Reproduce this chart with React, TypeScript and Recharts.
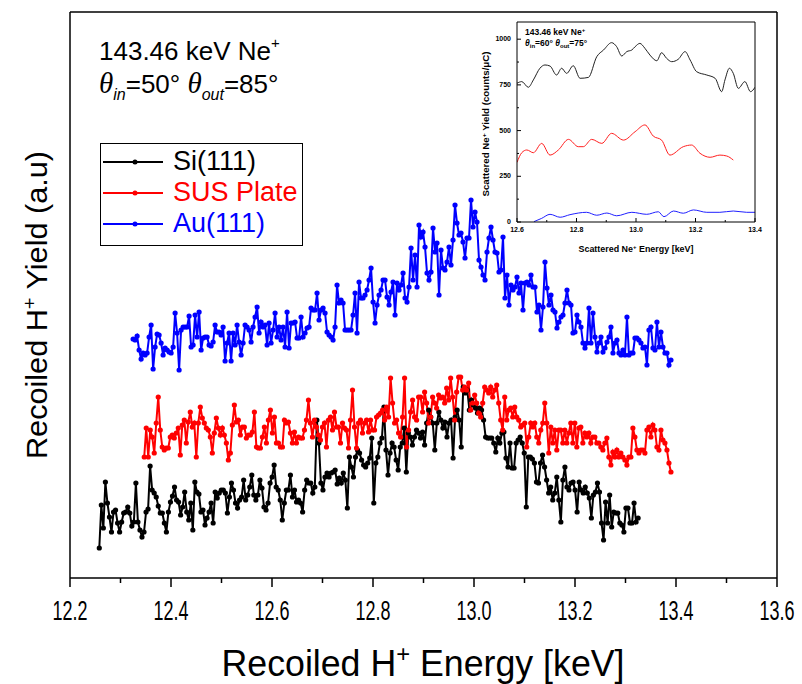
import React from 'react';
import { LineChart, Line, XAxis, YAxis, Legend } from 'recharts';

document.body.style.margin = '0';

// main plot: recoiled H+ yield (a.u.)
const energyTicks = [12.2, 12.3, 12.4, 12.5, 12.6, 12.7, 12.8, 12.9, 13.0, 13.1, 13.2, 13.3, 13.4, 13.5, 13.6];
const seriesNames = ['Si(111)', 'SUS Plate', 'Au(111)'];

const siRange = [12.258, 13.325];
const siYield = [
  30, 73, 50, 96, 75, 61, 46, 66, 68, 55, 46, 56, 65, 66, 71, 65, 52, 56, 95, 56,
  48, 41, 46, 66, 69, 112, 88, 85, 81, 72, 65, 65, 55, 46, 66, 76, 82, 91, 78, 76,
  63, 71, 86, 66, 58, 75, 48, 96, 86, 84, 66, 68, 53, 60, 66, 75, 55, 86, 80, 85,
  88, 88, 85, 65, 81, 95, 88, 75, 70, 78, 81, 98, 78, 83, 91, 103, 83, 78, 83, 98,
  90, 71, 68, 75, 95, 101, 113, 91, 88, 78, 58, 75, 88, 88, 103, 81, 88, 76, 78, 75,
  66, 88, 98, 95, 95, 85, 91, 158, 135, 95, 88, 101, 105, 101, 105, 106, 108, 94, 100, 95,
  105, 98, 70, 121, 111, 101, 121, 128, 125, 118, 113, 111, 115, 120, 140, 75, 115, 121, 135, 140,
  171, 128, 103, 125, 135,
  131, 118, 108, 131, 135, 150, 106, 145, 141, 133, 141, 148, 145, 140, 146, 133, 155, 168, 161, 155,
  128, 155, 166, 158, 150, 156, 141, 155, 158, 120, 161, 168, 158, 131, 191, 185, 188, 168, 178, 173,
  170, 165, 170, 168, 158, 141, 140, 140, 140, 135, 126, 140, 135, 145, 146, 120, 111, 135, 110, 110,
  135, 138, 141, 135, 125, 71, 121, 121, 119, 115, 96, 95, 115, 123, 111, 98, 85, 91, 78, 85,
  101, 78, 56, 98, 111, 91, 88, 95, 96, 88, 66, 96, 88, 85, 91, 85, 80, 60, 83, 86,
  95, 86, 55, 38, 76, 55, 83, 51, 66, 65, 65, 55, 53, 46, 70, 70, 55, 55, 75, 56, 60,
];

const susRange = [12.347, 13.39];
const susYield = [
  121, 150, 121, 148, 141, 125, 155, 181, 148, 131, 128, 130, 130, 141, 143, 140, 145, 150, 123, 153,
  158, 135, 156, 166, 151, 155, 121, 155, 171, 160, 155, 150, 148, 141, 125, 145, 160, 150, 143, 150,
  143, 135, 118, 125, 153, 173, 156, 158, 143, 151, 151, 140, 143, 143, 146, 166, 131, 130, 130, 141,
  151, 135, 158, 168, 145, 161, 135, 135, 131, 131, 158, 155, 156, 145, 135, 146, 135, 141, 140, 140,
  148, 158, 178, 155, 141, 158, 151, 143, 138, 151, 155, 131, 158, 161, 148, 166, 151, 151, 135, 155,
  150, 148, 130, 158, 188, 151, 130, 155, 158, 145, 155, 158, 146, 158, 148, 148, 161, 163, 165, 168,
  158, 171, 161, 200, 175, 155, 158, 145,
  141, 161, 200, 131, 148, 166, 178, 161, 158, 181, 181, 166, 186, 175, 155, 161, 181, 175, 170, 183,
  180, 181, 175, 190, 178, 200, 181, 158, 186, 201, 201, 188, 191, 188, 195, 168, 175, 183, 175, 165,
  161, 175, 191, 188, 185, 191, 181, 188, 193, 175, 158, 148, 181, 158, 168, 170, 161, 171, 161, 158,
  151, 153, 155, 131, 141, 155, 151, 155, 141, 135, 148, 155, 175, 155, 125, 151, 135, 148, 128, 148,
  148, 135, 148, 135, 145, 155, 135, 155, 131, 150, 151, 135, 145, 141, 145, 135, 141, 141, 135, 135,
  131, 128, 135, 140, 121, 113, 126, 121, 128, 121, 125, 121, 118, 113, 121, 121, 150, 141, 128, 125,
  128, 128, 125, 148, 151, 141, 153, 148, 131, 128, 148, 138, 135, 128, 115, 106,
];

const auRange = [12.325, 13.39];
const auYield = [
  239, 238, 242, 228, 219, 225, 223, 225, 241, 253, 209, 231, 244, 243, 235, 223, 230, 228, 226, 225,
  231, 265, 245, 208, 248, 251, 251, 251, 262, 231, 233, 263, 241, 266, 228, 240, 241, 241, 233, 232,
  236, 253, 246, 246, 243, 251, 217, 235, 245, 217, 245, 233, 253, 236, 223, 235, 253, 251, 248, 236,
  251, 261, 271, 245, 256, 251, 253, 233, 255, 235, 248, 265, 241, 251, 238, 251, 231, 266, 230, 255,
  255, 256, 240, 240, 261, 241, 245, 250, 251, 270, 268, 268, 285, 258, 268, 270, 265, 246, 243, 241,
  238, 251, 293, 275, 278, 275, 248, 248, 248, 248, 263, 285, 245, 296, 280, 280, 283, 288, 298, 310,
  276, 255, 273, 283, 288, 298, 298, 281, 273, 286, 296, 263, 295,
  288, 293, 305, 280, 276, 291, 330, 298, 323, 291, 353, 341, 346, 331, 305, 298, 306, 350, 326, 335,
  283, 328, 310, 308, 316, 331, 313, 338, 373, 355, 343, 345, 336, 320, 340, 340, 378, 351, 366, 356,
  318, 311, 303, 298, 326, 340, 351, 338, 326, 325, 306, 308, 341, 280, 303, 273, 293, 288, 291, 301,
  285, 295, 268, 295, 296, 293, 303, 291, 291, 266, 273, 248, 271, 316, 290, 273, 283, 268, 266, 250,
  256, 261, 263, 275, 288, 275, 273, 245, 246, 263, 256, 251, 235, 230, 235, 270, 235, 265, 241, 226,
  235, 241, 226, 230, 236, 241, 251, 225, 235, 238, 225, 223, 228, 223, 261, 223, 225, 225, 240, 240,
  238, 235, 230, 231, 213, 248, 251, 230, 228, 256, 231, 246, 231, 225, 225, 213, 218,
];

// inset: scattered Ne+ yield (counts/uC)
const insetTicksX = [12.6, 12.7, 12.8, 12.9, 13.0, 13.1, 13.2, 13.3, 13.4];
const insetTicksY = [0, 125, 250, 375, 500, 625, 750, 875, 1000];

const insetSiE = [12.6, 12.616, 12.638, 12.655, 12.677, 12.694, 12.711, 12.733, 12.75, 12.767, 12.789, 12.812, 12.84, 12.868, 12.891, 12.918, 12.935, 12.952, 12.969, 12.986, 12.997, 13.013, 13.03, 13.047, 13.07, 13.086, 13.103, 13.12, 13.142, 13.165, 13.182, 13.204, 13.238, 13.266, 13.288, 13.299, 13.314, 13.327, 13.344, 13.366, 13.385, 13.4];
const insetSiY = [759, 768, 737, 777, 841, 859, 853, 804, 841, 813, 855, 786, 791, 904, 941, 981, 959, 908, 932, 941, 959, 977, 950, 913, 882, 926, 895, 877, 890, 932, 886, 822, 804, 786, 713, 777, 841, 813, 731, 768, 713, 737];

const insetSusE = [12.6, 12.616, 12.633, 12.655, 12.683, 12.711, 12.739, 12.773, 12.806, 12.823, 12.851, 12.885, 12.918, 12.958, 12.997, 13.03, 13.058, 13.086, 13.114, 13.159, 13.187, 13.215, 13.249, 13.282, 13.305, 13.327];
const insetSusY = [326, 379, 394, 379, 430, 366, 394, 452, 412, 412, 452, 430, 485, 448, 494, 531, 470, 448, 366, 412, 421, 376, 354, 366, 361, 339];

const insetAuE = [12.657, 12.683, 12.711, 12.745, 12.778, 12.834, 12.868, 12.902, 12.935, 12.986, 13.036, 13.075, 13.094, 13.126, 13.159, 13.193, 13.238, 13.282, 13.327, 13.372, 13.4];
const insetAuY = [2, 20, 42, 26, 40, 53, 37, 49, 34, 53, 42, 56, 29, 60, 48, 66, 53, 53, 60, 53, 53];

const spread = (range: number[], ys: number[]) =>
  ys.map((y, i) => ({ e: range[0] + ((range[1] - range[0]) * i) / (ys.length - 1), y }));
const pair = (es: number[], ys: number[]) => es.map((e, i) => ({ e, y: ys[i] }));

const siData = spread(siRange, siYield);
const susData = spread(susRange, susYield);
const auData = spread(auRange, auYield);

const SANS = "'Liberation Sans', Arial, sans-serif";
const frame = { stroke: '#000', strokeWidth: 1.5 };

const MainTick = (props: any) => {
  const { x, y, payload, index } = props;
  const major = index % 2 === 0;
  return (
    <g>
      <line x1={x} y1={y} x2={x} y2={y + (major ? 9 : 5)} stroke="#000" strokeWidth={1.5} />
      {major && (
        <text x={x} y={y + 42} textAnchor="middle" fontFamily={SANS} fontSize={28} fill="#000"
          textLength={35} lengthAdjust="spacingAndGlyphs">
          {payload.value.toFixed(1)}
        </text>
      )}
    </g>
  );
};

const InsetTickX = (props: any) => {
  const { x, y, payload, index } = props;
  const major = index % 2 === 0;
  return (
    <g>
      <line x1={x} y1={y} x2={x} y2={y - (major ? 4 : 2)} stroke="#000" strokeWidth={1} />
      {major && (
        <text x={x} y={y + 10} textAnchor="middle" fontFamily={SANS} fontWeight="bold" fontSize={7} fill="#000">
          {payload.value.toFixed(1)}
        </text>
      )}
    </g>
  );
};

const InsetTickY = (props: any) => {
  const { x, y, payload, index } = props;
  const major = index % 2 === 0;
  return (
    <g>
      <line x1={x} y1={y} x2={x + (major ? 4 : 2)} y2={y} stroke="#000" strokeWidth={1} />
      {major && (
        <text x={x - 6} y={y + 2} textAnchor="end" fontFamily={SANS} fontWeight="bold" fontSize={7} fill="#000">
          {payload.value}
        </text>
      )}
    </g>
  );
};

const LegendBox = (props: any) => {
  const items = [...(props.payload || [])].sort(
    (a: any, b: any) => seriesNames.indexOf(a.value) - seriesNames.indexOf(b.value)
  );
  return (
    <div style={{ width: 201, height: 99, border: '1.5px solid #000', background: '#fff', fontFamily: SANS, fontSize: 27, paddingTop: 2 }}>
      {items.map((p: any) => (
        <div key={p.value} style={{ display: 'flex', alignItems: 'center', height: 31, color: p.color }}>
          <svg width={66} height={10} style={{ marginLeft: 2 }}>
            <line x1={0} y1={5} x2={60} y2={5} stroke={p.color} strokeWidth={2} />
            <circle cx={32} cy={5} r={2.5} fill={p.color} />
          </svg>
          <span style={{ marginLeft: 4, lineHeight: '31px' }}>{p.value}</span>
        </div>
      ))}
    </div>
  );
};

const mainLine = (data: any[], color: string, name: string) => (
  <Line
    key={name}
    data={data}
    dataKey="y"
    name={name}
    xAxisId="b"
    yAxisId="l"
    stroke={color}
    strokeWidth={2}
    dot={{ r: 2.6, fill: color, stroke: color, strokeWidth: 0 }}
    activeDot={false}
    isAnimationActive={false}
  />
);

const insetLine = (data: any[], color: string, name: string) => (
  <Line
    key={name}
    data={data}
    dataKey="y"
    name={name}
    xAxisId="b"
    yAxisId="l"
    type="monotone"
    stroke={color}
    strokeWidth={1}
    dot={false}
    activeDot={false}
    isAnimationActive={false}
  />
);

const Inset = () => (
  <div style={{ position: 'absolute', left: 470, top: 12, width: 300, height: 245 }}>
    <LineChart width={300} height={245} margin={{ top: 9, right: 14, bottom: 34, left: 46 }}>
      <XAxis xAxisId="b" dataKey="e" type="number" domain={[12.6, 13.4]} ticks={insetTicksX} interval={0}
        tick={<InsetTickX />} tickSize={0} tickMargin={0} tickLine={false} height={1}
        axisLine={{ stroke: '#000' }} allowDataOverflow />
      <XAxis xAxisId="t" orientation="top" type="number" domain={[12.6, 13.4]} tick={false} tickLine={false}
        height={1} axisLine={{ stroke: '#000' }} />
      <YAxis yAxisId="l" type="number" domain={[0, 1094]} ticks={insetTicksY} interval={0}
        tick={<InsetTickY />} tickSize={0} tickMargin={0} tickLine={false} width={1}
        axisLine={{ stroke: '#000' }} allowDataOverflow />
      <YAxis yAxisId="r" orientation="right" type="number" domain={[0, 1094]} tick={false} tickLine={false}
        width={1} axisLine={{ stroke: '#000' }} />
      {insetLine(pair(insetSiE, insetSiY), '#222', 'Si(111)')}
      {insetLine(pair(insetSusE, insetSusY), '#ff2020', 'SUS Plate')}
      {insetLine(pair(insetAuE, insetAuY), '#2020ff', 'Au(111)')}
    </LineChart>
  </div>
);

export default function App() {
  return (
    <div style={{ position: 'relative', width: 802, height: 684, background: '#fff' }}>
      <LineChart width={802} height={684} margin={{ top: 11, right: 24, bottom: 105, left: 69 }}>
        <XAxis xAxisId="b" dataKey="e" type="number" domain={[12.2, 13.6]} ticks={energyTicks} interval={0}
          tick={<MainTick />} tickSize={0} tickMargin={0} tickLine={false} height={1}
          axisLine={frame} allowDataOverflow />
        <XAxis xAxisId="t" orientation="top" type="number" domain={[12.2, 13.6]} tick={false} tickLine={false}
          height={1} axisLine={frame} />
        <YAxis yAxisId="l" type="number" domain={[0, 566]} tick={false} tickLine={false} width={1} axisLine={frame} />
        <YAxis yAxisId="r" orientation="right" type="number" domain={[0, 566]} tick={false} tickLine={false}
          width={1} axisLine={frame} />
        <Legend content={<LegendBox />} layout="horizontal" verticalAlign="middle" align="center"
          wrapperStyle={{ left: 100, top: 143, width: 'auto', height: 'auto' }} />
        {mainLine(siData, '#000000', seriesNames[0])}
        {mainLine(susData, '#ff0000', seriesNames[1])}
        {mainLine(auData, '#0000ff', seriesNames[2])}
      </LineChart>

      <Inset />

      <svg width={802} height={684} style={{ position: 'absolute', left: 0, top: 0, pointerEvents: 'none' }}>
        <g fontFamily={SANS} fill="#000">
          <text x={99} y={60} fontSize={26}>
            143.46 keV Ne<tspan dy={-12} fontSize={15}>+</tspan>
          </text>
          <text x={99} y={93} fontSize={26}>
            <tspan fontFamily="'Liberation Serif', serif" fontStyle="italic" fontSize={29}>θ</tspan>
            <tspan dy={7} fontStyle="italic" fontSize={16}>in</tspan>
            <tspan dy={-7}>=50°  </tspan>
            <tspan fontFamily="'Liberation Serif', serif" fontStyle="italic" fontSize={29}>θ</tspan>
            <tspan dy={7} fontStyle="italic" fontSize={16}>out</tspan>
            <tspan dy={-7}>=85°</tspan>
          </text>
          <text x={423} y={676} fontSize={36} textAnchor="middle" textLength={403} lengthAdjust="spacingAndGlyphs">
            Recoiled H<tspan dy={-14} fontSize={24}>+</tspan><tspan dy={14}> Energy [keV]</tspan>
          </text>
          <g transform="translate(47,305) rotate(-90)">
            <text x={0} y={0} fontSize={29} textAnchor="middle" textLength={308} lengthAdjust="spacingAndGlyphs">
              Recoiled H<tspan dy={-11} fontSize={19}>+</tspan><tspan dy={11}> Yield (a.u)</tspan>
            </text>
          </g>
          <g fontWeight="bold">
            <text x={525} y={35} fontSize={8.5}>
              143.46 keV Ne<tspan dy={-3} fontSize={6}>+</tspan>
            </text>
            <text x={525} y={46} fontSize={8.5}>
              <tspan fontStyle="italic">θ</tspan><tspan dy={2} fontSize={6}>in</tspan>
              <tspan dy={-2}>=60° </tspan>
              <tspan fontStyle="italic">θ</tspan><tspan dy={2} fontSize={6}>out</tspan>
              <tspan dy={-2}>=75°</tspan>
            </text>
            <text x={636} y={252} fontSize={9} textAnchor="middle" textLength={115} lengthAdjust="spacingAndGlyphs">
              Scattered Ne<tspan dy={-3} fontSize={6}>+</tspan><tspan dy={3}> Energy [keV]</tspan>
            </text>
            <g transform="translate(489,124) rotate(-90)">
              <text x={0} y={0} fontSize={8.5} textAnchor="middle" textLength={145} lengthAdjust="spacingAndGlyphs">
                Scattered Ne<tspan dy={-3} fontSize={6}>+</tspan><tspan dy={3}> Yield (counts/μC)</tspan>
              </text>
            </g>
          </g>
        </g>
      </svg>
    </div>
  );
}
